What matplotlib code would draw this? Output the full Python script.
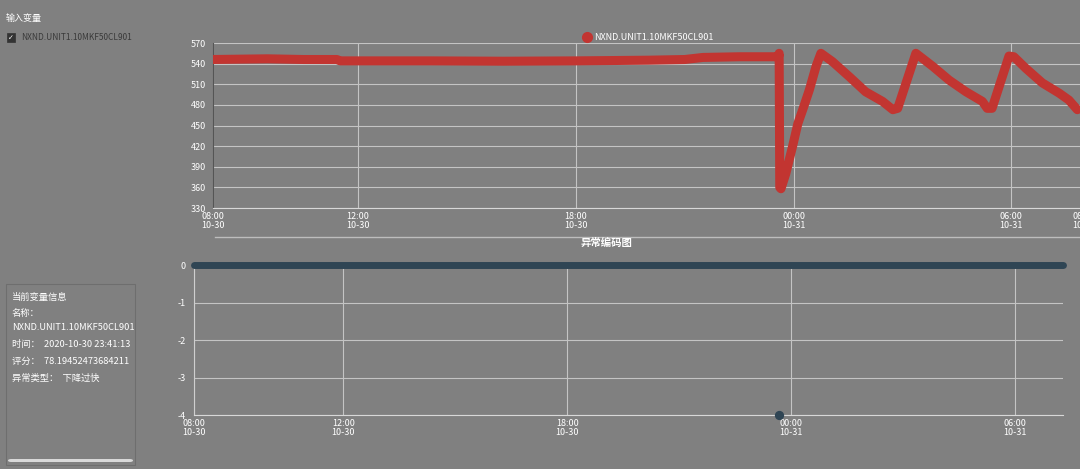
import pandas as pd
import matplotlib.pyplot as plt
from matplotlib.lines import Line2D
from matplotlib.patches import Rectangle, FancyBboxPatch

plt.rcParams['font.family'] = ['Noto Sans CJK SC', 'DejaVu Sans']
plt.rcParams['axes.unicode_minus'] = False

# -----------------------------
# DATA
# -----------------------------
var_name = "NXND.UNIT1.10MKF50CL901"

trend_times = [
    "2020-10-30 08:00", "2020-10-30 09:30", "2020-10-30 10:30", "2020-10-30 11:25",
    "2020-10-30 11:30", "2020-10-30 14:00", "2020-10-30 16:00", "2020-10-30 18:00",
    "2020-10-30 19:00", "2020-10-30 20:00", "2020-10-30 21:00", "2020-10-30 21:30",
    "2020-10-30 22:30", "2020-10-30 23:35", "2020-10-30 23:36", "2020-10-30 23:37",
    "2020-10-30 23:39", "2020-10-30 23:47", "2020-10-30 23:58", "2020-10-31 00:07",
    "2020-10-31 00:15", "2020-10-31 00:26", "2020-10-31 00:37", "2020-10-31 00:45",
    "2020-10-31 01:04", "2020-10-31 01:32", "2020-10-31 01:59", "2020-10-31 02:27",
    "2020-10-31 02:44", "2020-10-31 02:52", "2020-10-31 03:22", "2020-10-31 03:50",
    "2020-10-31 04:17", "2020-10-31 04:45", "2020-10-31 05:12", "2020-10-31 05:20",
    "2020-10-31 05:28", "2020-10-31 05:56", "2020-10-31 06:04", "2020-10-31 06:24",
    "2020-10-31 06:51", "2020-10-31 07:19", "2020-10-31 07:35", "2020-10-31 07:49",
]
trend_values = [
    546, 547, 546, 546,
    544, 544, 543.5, 544,
    544.5, 545, 546, 549,
    550, 550, 555, 360,
    358, 380, 419, 453,
    473, 502, 536, 555,
    543, 521, 499, 485,
    473, 475, 555, 536,
    516, 499, 485, 475,
    475, 551, 550, 533,
    512, 497, 487, 473,
]

code_times = ["2020-10-30 08:00", "2020-10-31 07:17"]
code_values = [0, 0]
anomaly_time = ["2020-10-30 23:41:13"]
anomaly_code = [-4]

info_lines = [
    "当前变量信息",
    "名称：",
    var_name,
    "时间：  2020-10-30 23:41:13",
    "评分：  78.19452473684211",
    "异常类型：  下降过快",
]

# -----------------------------
# STYLE
# -----------------------------
bg = "#808080"
grid_c = "#c4c4c4"
red = "#c23531"
navy = "#2f4554"
W, H = 1080, 469

def fx(px):
    return px / W

def fy(py):
    return 1 - py / H

fig = plt.figure(figsize=(10.8, 4.69), dpi=100, facecolor=bg)

tick_times = pd.to_datetime(["2020-10-30 08:00", "2020-10-30 12:00", "2020-10-30 18:00",
                             "2020-10-31 00:00", "2020-10-31 06:00", "2020-10-31 08:00"])
tick_labels = [t.strftime("%H:%M\n%m-%d") for t in tick_times]


def style_axis(ax):
    ax.set_facecolor(bg)
    ax.spines["top"].set_visible(False)
    ax.spines["right"].set_visible(False)
    ax.spines["bottom"].set_color("#d8d8d8")
    ax.tick_params(length=0, colors="white", labelsize=6.5)
    ax.grid(True, color=grid_c, lw=0.8)
    ax.set_axisbelow(True)
    ax.set_xticks(tick_times)
    ax.set_xticklabels(tick_labels, linespacing=1.0)


# -----------------------------
# TOP CHART
# -----------------------------
ax1 = fig.add_axes([fx(213), fy(208), fx(1084 - 213), (208 - 43) / H])
style_axis(ax1)
ax1.spines["left"].set_color("#555555")
ax1.plot(pd.to_datetime(trend_times), trend_values, color=red, lw=6.5,
         solid_capstyle="round", solid_joinstyle="round", zorder=3)
ax1.set_ylim(330, 570)
ax1.set_yticks(range(330, 571, 30))
ax1.set_xlim(pd.Timestamp("2020-10-30 08:00"), pd.Timestamp("2020-10-31 08:00"))
ax1.tick_params(axis="y", pad=5)
ax1.tick_params(axis="x", pad=3)

handle = Line2D([], [], color=red, marker="o", linestyle="none", markersize=7)
fig.legend([handle], [var_name], loc="center left", bbox_to_anchor=(fx(578), fy(38)),
           frameon=False, fontsize=6.5, labelcolor="white", handletextpad=0.3,
           borderpad=0, handlelength=1.0)

# separator line and title
fig.add_artist(Line2D([fx(215), fx(1080)], [fy(237), fy(237)], color="#bdbdbd", lw=1))
fig.text(fx(606), fy(243), "异常编码图", color="white", fontsize=7.5, fontweight="bold",
         ha="center", va="center")

# -----------------------------
# BOTTOM CHART
# -----------------------------
ax2 = fig.add_axes([fx(194), fy(415), fx(1063 - 194), (415 - 265) / H])
style_axis(ax2)
ax2.spines["left"].set_color("#cfcfcf")
ax2.plot(pd.to_datetime(code_times), code_values, color=navy, lw=5,
         solid_capstyle="round", clip_on=False, zorder=3)
ax2.scatter(pd.to_datetime(anomaly_time), anomaly_code, color=navy, s=32,
            clip_on=False, zorder=4)
ax2.set_ylim(-4, 0)
ax2.set_yticks([0, -1, -2, -3, -4])
ax2.set_xlim(pd.Timestamp("2020-10-30 08:00"), pd.Timestamp("2020-10-31 07:17"))
ax2.tick_params(axis="y", pad=6)
ax2.tick_params(axis="x", pad=3)

# -----------------------------
# LEFT PANEL
# -----------------------------
fig.text(fx(6), fy(18), "输入变量", color="white", fontsize=6.5, va="center")
fig.add_artist(Rectangle((fx(7), fy(42)), fx(8), 9 / H, facecolor="#333333",
                         edgecolor="#333333", lw=0.5))
fig.text(fx(11), fy(38), "✓", color="white", fontsize=5, ha="center", va="center",
         family="DejaVu Sans")
fig.text(fx(21), fy(37), var_name, color="#3a3a3a", fontsize=6, va="center")

fig.add_artist(Rectangle((fx(6), fy(465)), fx(129), (465 - 284) / H,
                         facecolor="none", edgecolor="#6e6e6e", lw=0.8))
line_y = [297, 313, 327, 344, 361, 378]
for txt, yy in zip(info_lines, line_y):
    fig.text(fx(12), fy(yy), txt, color="white", fontsize=6.7, va="center")

fig.add_artist(FancyBboxPatch((fx(8), fy(462)), fx(125), 3 / H,
                              boxstyle="round,pad=0,rounding_size=0.003",
                              facecolor="#d9d9d9", edgecolor="none"))

plt.savefig("out.png", dpi=100, facecolor=bg)
plt.close()
